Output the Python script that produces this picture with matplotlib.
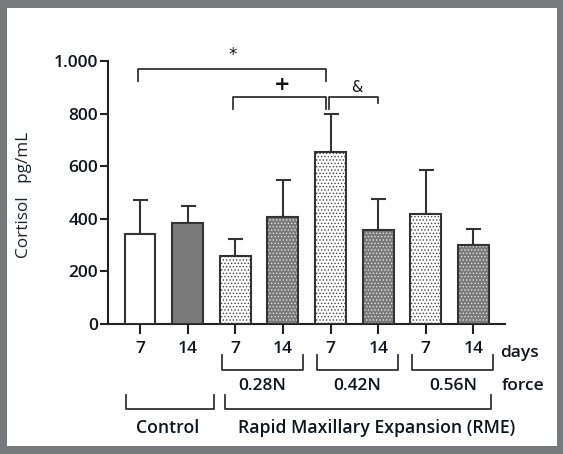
import matplotlib
matplotlib.use("Agg")
import matplotlib.pyplot as plt
import numpy as np
from matplotlib.patches import Rectangle

# data
days = ["7", "14", "7", "14", "7", "14", "7", "14"]
means = [341, 385, 260, 406, 655, 357, 417, 300]
sd = [130, 64, 64, 143, 142, 118, 170, 62]
fills = ["#ffffff", "#7a7a7a", "#ffffff", "#7a7a7a", "#ffffff", "#7a7a7a", "#ffffff", "#7a7a7a"]
dotted = [False, False, True, True, True, True, True, True]
forces = ["0.28N", "0.42N", "0.56N"]
force_groups = [(2, 3), (4, 5), (6, 7)]
groups = ["Control", "Rapid Maxillary Expansion (RME)"]
group_spans = [(0, 1), (2, 7)]
ytick_vals = [0, 200, 400, 600, 800, 1000]
ytick_labels = ["0", "200", "400", "600", "800", "1.000"]

FONT = "Open Sans"
TXT = "#10141c"
plt.rcParams["font.family"] = [FONT, "DejaVu Sans"]
plt.rcParams["hatch.linewidth"] = 0.6

fig = plt.figure(figsize=(5.63, 4.54), dpi=100)
fig.patch.set_facecolor("#76797c")
fig.patches.append(Rectangle((7 / 563, (454 - 446) / 454), 550 / 563, 438 / 454,
                             transform=fig.transFigure, facecolor="white",
                             edgecolor="none", zorder=-5))

ax = fig.add_axes([108 / 563, (454 - 324) / 454, 397 / 563, 263 / 454])
ax.set_zorder(2)
ax.set_facecolor("none")
x = np.arange(len(means))
w = 0.65

for i in range(len(means)):
    if dotted[i]:
        dot_col = "#444444" if fills[i] == "#ffffff" else "#e0e0e0"
        ax.bar(x[i], means[i], w, color=fills[i], edgecolor=dot_col, hatch=".....",
               linewidth=0, zorder=2)
        ax.bar(x[i], means[i], w, color="none", edgecolor="#333333", linewidth=1.5, zorder=3)
    else:
        ax.bar(x[i], means[i], w, color=fills[i], edgecolor="#333333", linewidth=1.5, zorder=3)

ax.errorbar(x, means, yerr=[np.zeros(len(sd)), sd], fmt="none", ecolor="#333333",
            elinewidth=1.5, capsize=5.4, capthick=1.5, zorder=1)

ax.set_xlim(-0.672, 7.663)
ax.set_ylim(0, 1000)
for s in ["top", "right"]:
    ax.spines[s].set_visible(False)
for s in ["left", "bottom"]:
    ax.spines[s].set_linewidth(1.5)
    ax.spines[s].set_color("#222222")

ax.set_yticks(ytick_vals)
ax.set_yticklabels(ytick_labels, fontsize=12.5, color=TXT, fontweight="semibold")
ax.set_xticks(x)
ax.set_xticklabels(days, fontsize=12.5, color=TXT, fontweight="semibold")
ax.tick_params(axis="y", length=6, width=1.5, pad=1, color="#222222")
ax.tick_params(axis="x", length=7.5, width=1.5, pad=5, color="#222222")
ax.set_ylabel("Cortisol   pg/mL", fontsize=12.3, color="#1c2330")
ax.yaxis.set_label_coords(-0.191, 0.49)

lk = dict(color="#333333", lw=1.3, clip_on=False)

# significance brackets
ax.plot([-0.036, -0.036, 3.905, 3.905], [925, 970, 970, 925], **lk)
ax.text(1.95, 1023, "*", ha="center", va="center", fontsize=12, family="DejaVu Sans", color="#111111")
ax.plot([1.946, 1.946, 3.905, 3.905], [817, 864, 864, 817], **lk)
ax.plot([3.974, 3.974, 4.99, 4.99], [817, 864, 864, 841], **lk)
ax.text(2.975, 912, "+", ha="center", va="center", fontsize=14, fontweight="bold",
        family="DejaVu Sans", color="#111111")
ax.text(4.55, 901, "&", ha="center", va="center", fontsize=10.5, family="DejaVu Sans", color="#111111")

# days / force annotations
ax.text(7.56, -110, "days", ha="left", va="center", fontsize=12.5, color=TXT,
        fontweight="semibold", clip_on=False)
for (a, b), lab in zip(force_groups, forces):
    x0, x1 = a - 0.285, b + 0.42
    ax.plot([x0, x0, x1, x1], [-118, -175, -175, -118], **lk)
    ax.text((x0 + x1) / 2, -236, lab, ha="center", va="center", fontsize=12.5,
            color=TXT, fontweight="semibold", clip_on=False)
ax.text(7.6, -236, "force", ha="left", va="center", fontsize=12.5, color=TXT,
        fontweight="semibold", clip_on=False)

# group annotations
for (a, b), lab in zip(group_spans, groups):
    x0 = a - 0.3 if a == 0 else a - 0.215
    x1 = b + 0.554 if b == 1 else b + 0.363
    ax.plot([x0, x0, x1, x1], [-270, -323, -323, -270], **lk)
    ax.text((x0 + x1) / 2 + (-0.04 if a == 0 else 0.4), -395, lab, ha="center", va="center",
            fontsize=12.7, fontweight="semibold", color=TXT, clip_on=False)

fig.savefig("out.png", dpi=100, facecolor=fig.get_facecolor())
